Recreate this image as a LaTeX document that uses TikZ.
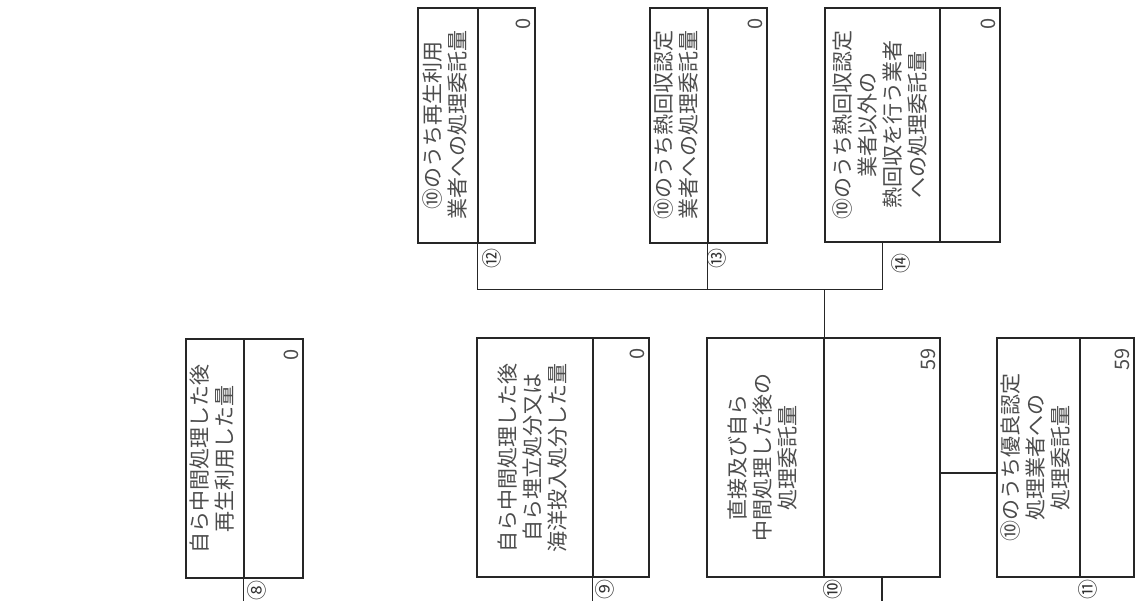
\documentclass[tikz,border=0pt]{standalone}
\usepackage{fontspec}
\setmainfont{Noto Sans CJK JP}
\usetikzlibrary{calc}
\newcommand{\vlines}[1]{\rotatebox{90}{\begin{tabular}{@{}c@{}}#1\end{tabular}}}

\begin{document}
\begin{tikzpicture}[x=1pt,y=-1pt,line width=1.2pt,
  cell/.style={draw=black!85,inner sep=0pt,font=\fontsize{21}{24.5}\selectfont,text=black!70},
  valtxt/.style={rotate=90,anchor=east,inner sep=0pt,font=\fontsize{20}{20}\selectfont,text=black!70},
  num/.style={rotate=90,inner sep=0pt,font=\fontsize{20}{20}\selectfont,text=black!80}]
\useasboundingbox (0,0) rectangle (1137,601);
% boxes: label column, value column, value
\foreach \id/\xa/\xb/\xc/\ya/\yb/\val/\txt in {
  8/186/244/303/339/578/0/{自ら中間処理した後\\再生利用した量},
  9/477/593/649/338/577/0/{自ら中間処理した後\\自ら埋立処分又は\\海洋投入処分した量},
  10/707/824/940/338/577/59/{直接及び自ら\\中間処理した後の\\処理委託量},
  11/997/1080/1134/338/577/59/{⑩のうち優良認定\\処理業者への\\処理委託量},
  12/418/478/535/8/243/0/{⑩のうち再生利用\\業者への処理委託量},
  13/650/708/767/8/243/0/{⑩のうち熱回収認定\\業者への処理委託量},
  14/825/940/1000/8/242/0/{⑩のうち熱回収認定\\業者以外の\\熱回収を行う業者\\への処理委託量}}{
  \node[cell,minimum width=\xb-\xa,minimum height=\yb-\ya] (l\id) at ({(\xa+\xb)/2},{(\ya+\yb)/2}) {\vlines{\txt}};
  \node[cell,minimum width=\xc-\xb,minimum height=\yb-\ya] (v\id) at ({(\xb+\xc)/2},{(\ya+\yb)/2}) {};
  \node[valtxt] (t\id) at ($(v\id.north east)+(-12,10)$) {\val};
}
% circled numbers
\node[num] (n8) at ($(v8.south west)+(13,12)$) {⑧};
\node[num] (n9) at ($(v9.south west)+(12,12)$) {⑨};
\node[num] (n10) at ($(v10.south west)+(9,12)$) {⑩};
\node[num] (n11) at ($(v11.south west)+(8,12)$) {⑪};
\node[num] (n12) at ($(v12.south west)+(14,15)$) {⑫};
\node[num] (n13) at ($(v13.south west)+(9,15)$) {⑬};
\node[num] (n14) at ($(l14.south)+(18,21)$) {⑭};
% connectors
\coordinate (bus) at ($(l10.north east)+(0,-48)$);
\draw[black!85] (v12.south west) |- (bus) -| (l14.south);
\draw[black!85] (v13.south west) -- (v13.south west |- bus);
\draw[black!85] (bus) -- (l10.north east);
\draw[black!85] ([yshift=-15.5pt]v10.east) -- ([yshift=-15.5pt]l11.west);
\path (v8.south west) ++(0,23) coordinate (e8);
\path (v9.south west) ++(0,24) coordinate (e9);
\path (v10.south) ++(0,24) coordinate (e10);
\draw[black!85] (v8.south west) -- (e8);
\draw[black!85] (v9.south west) -- (e9);
\draw[black!85] (v10.south) -- (e10);
\end{tikzpicture}
\end{document}
